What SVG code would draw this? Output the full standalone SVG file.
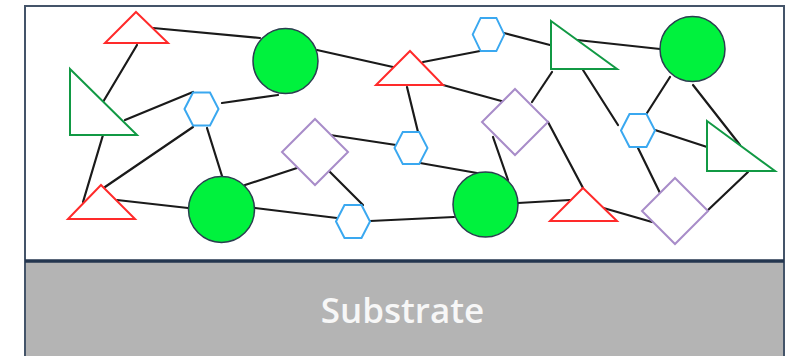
<svg xmlns="http://www.w3.org/2000/svg" width="795" height="356" viewBox="0 0 795 356">
  <defs>
    <style>
      .edge { stroke: #1a1a1a; stroke-width: 2.2; fill: none; stroke-linecap: round; }
      .tri-red { fill: #ffffff; stroke: #ff2a2a; stroke-width: 2; stroke-linejoin: miter; }
      .tri-green { fill: #ffffff; stroke: #119944; stroke-width: 2; }
      .hex { fill: #ffffff; stroke: #3aa8f0; stroke-width: 2; }
      .dia { fill: #ffffff; stroke: #a88cc9; stroke-width: 2; }
      .ball { fill: #00f23d; stroke: #2b3e50; stroke-width: 1.5; }
      .label { font-family: "Open Sans", "Liberation Sans", sans-serif; font-size: 35px; font-weight: 600; fill: #f7f7f7; text-anchor: middle; }
    </style>
    <path id="hexShape" d="M-17,0 L-8.5,-16.5 L8.5,-16.5 L17,0 L8.5,16.5 L-8.5,16.5 Z"/>
    <path id="diaShape" d="M0,-33 L33,0 L0,33 L-33,0 Z"/>
  </defs>

  <!-- film and substrate frame -->
  <rect x="0" y="0" width="795" height="356" fill="#ffffff"/>
  <rect x="25" y="262" width="759" height="94" fill="#b4b4b4"/>
  <rect x="25" y="6" width="759" height="360" fill="none" stroke="#445469" stroke-width="2"/>
  <line x1="25" y1="261" x2="784" y2="261" stroke="#24364f" stroke-width="3.5"/>
  <text class="label" x="402.5" y="323">Substrate</text>

  <!-- bonds between network units -->
  <g id="connectors">
    <line class="edge" x1="153" y1="28" x2="260" y2="38"/>
    <line class="edge" x1="137" y1="45" x2="103" y2="102"/>
    <line class="edge" x1="125" y1="120" x2="193" y2="92"/>
    <line class="edge" x1="222" y1="103" x2="278" y2="95"/>
    <line class="edge" x1="207" y1="128" x2="222" y2="176"/>
    <line class="edge" x1="193" y1="127" x2="105" y2="187"/>
    <line class="edge" x1="103" y1="135" x2="83" y2="202"/>
    <line class="edge" x1="317" y1="50" x2="393" y2="67"/>
    <line class="edge" x1="330" y1="135" x2="396" y2="145"/>
    <line class="edge" x1="297" y1="168" x2="245" y2="185"/>
    <line class="edge" x1="330" y1="172" x2="363" y2="205"/>
    <line class="edge" x1="117" y1="200" x2="188" y2="208"/>
    <line class="edge" x1="255" y1="208" x2="337" y2="218"/>
    <line class="edge" x1="370" y1="221" x2="454" y2="217"/>
    <line class="edge" x1="423" y1="62" x2="480" y2="51"/>
    <line class="edge" x1="443" y1="85" x2="505" y2="102"/>
    <line class="edge" x1="407" y1="87" x2="418" y2="132"/>
    <line class="edge" x1="504" y1="33" x2="550" y2="45"/>
    <line class="edge" x1="577" y1="40" x2="660" y2="49"/>
    <line class="edge" x1="552" y1="72" x2="532" y2="102"/>
    <line class="edge" x1="583" y1="70" x2="618" y2="125"/>
    <line class="edge" x1="638" y1="148" x2="660" y2="193"/>
    <line class="edge" x1="670" y1="77" x2="647" y2="113"/>
    <line class="edge" x1="693" y1="85" x2="740" y2="145"/>
    <line class="edge" x1="655" y1="130" x2="707" y2="147"/>
    <line class="edge" x1="748" y1="172" x2="707" y2="211"/>
    <line class="edge" x1="548" y1="122" x2="583" y2="188"/>
    <line class="edge" x1="493" y1="137" x2="508" y2="180"/>
    <line class="edge" x1="420" y1="163" x2="477" y2="173"/>
    <line class="edge" x1="518" y1="203" x2="570" y2="200"/>
    <line class="edge" x1="600" y1="207" x2="652" y2="222"/>
  </g>

  <!-- triangles -->
  <g id="tri-red-1"><polygon class="tri-red" points="136,12 168,43 105,43"/></g>
  <g id="tri-red-2"><polygon class="tri-red" points="410,51 443,85 376,85"/></g>
  <g id="tri-red-3"><polygon class="tri-red" points="101,185 135,219 68,219"/></g>
  <g id="tri-red-4"><polygon class="tri-red" points="583,188 617,221 550,221"/></g>
  <g id="tri-green-1"><polygon class="tri-green" points="70,69 137,135 70,135"/></g>
  <g id="tri-green-2"><polygon class="tri-green" points="551,21 617,69 551,69"/></g>
  <g id="tri-green-3"><polygon class="tri-green" points="707,121 775,171 707,171"/></g>

  <!-- spheres -->
  <g id="ball-1"><circle class="ball" cx="285.5" cy="61" r="32.5"/></g>
  <g id="ball-2"><circle class="ball" cx="221.5" cy="209.5" r="33"/></g>
  <g id="ball-3"><circle class="ball" cx="485.5" cy="204.5" r="32.5"/></g>
  <g id="ball-4"><circle class="ball" cx="692.5" cy="49" r="32.5"/></g>

  <!-- hexagons -->
  <g id="hex-1"><use href="#hexShape" class="hex" transform="translate(201.5,109)"/></g>
  <g id="hex-2"><use href="#hexShape" class="hex" transform="translate(488.5,34.5) scale(0.93,1)"/></g>
  <g id="hex-3"><use href="#hexShape" class="hex" transform="translate(411,148) scale(0.97,0.97)"/></g>
  <g id="hex-4"><use href="#hexShape" class="hex" transform="translate(638,130.5)"/></g>
  <g id="hex-5"><use href="#hexShape" class="hex" transform="translate(353,221.5)"/></g>

  <!-- diamonds -->
  <g id="dia-1"><use href="#diaShape" class="dia" transform="translate(315,152)"/></g>
  <g id="dia-2"><use href="#diaShape" class="dia" transform="translate(515,122)"/></g>
  <g id="dia-3"><use href="#diaShape" class="dia" transform="translate(675,211)"/></g>
</svg>
